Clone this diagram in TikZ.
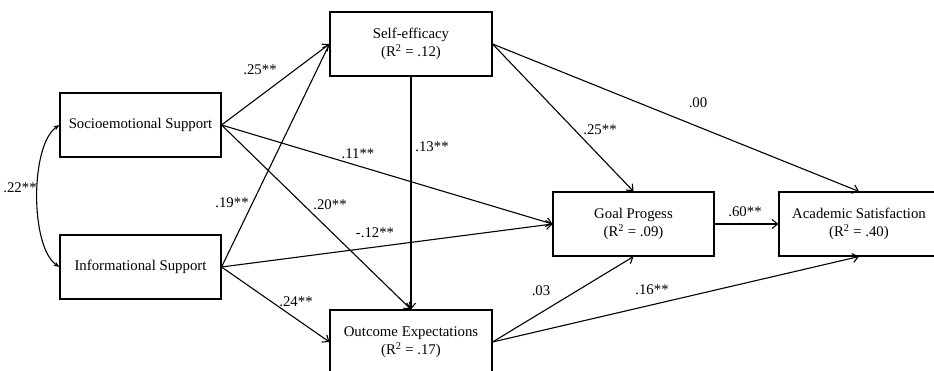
\documentclass[tikz,border=0pt]{standalone}
\usepackage{fontspec}
\setmainfont{Liberation Serif}
\usetikzlibrary{arrows.meta}
\begin{document}
\begin{tikzpicture}[x=1pt,y=-1pt,
  font=\fontsize{14.8}{18}\selectfont,
  box/.style={draw,line width=1.1pt,minimum height=64pt,inner sep=0pt,align=center},
  path/.style={line width=1.1pt,-{Straight Barb[length=5.5pt,width=9pt,line width=1.1pt]}},
  coef/.style={inner sep=0pt}]
\useasboundingbox (0,0) rectangle (934,370);
\clip (0,0) rectangle (934,370);
\node[box,minimum width=161pt] (soc) at (140.5,125) {Socioemotional Support};
\node[box,minimum width=161pt] (inf) at (140.5,267) {Informational Support};
\node[box,minimum width=162pt] (se) at (411,44) {Self-efficacy\\(R\textsuperscript{2} = .12)};
\node[box,minimum width=162pt] (oe) at (411,342) {Outcome Expectations\\(R\textsuperscript{2} = .17)};
\node[box,minimum width=161pt] (gp) at (633.5,224) {Goal Progess\\(R\textsuperscript{2} = .09)};
\node[box,minimum width=160pt] (as) at (859,224) {Academic Satisfaction\\(R\textsuperscript{2} = .40)};
\draw[path] (soc.east) -- (se.west);
\draw[path] (inf.east) -- (se.west);
\draw[path] (soc.east) -- (gp.west);
\draw[path] (inf.east) -- (gp.west);
\draw[path] (soc.east) -- (oe.north);
\draw[path] (se.south) -- (oe.north);
\draw[path] (inf.east) -- (oe.west);
\draw[path] (se.east) -- (gp.north);
\draw[path] (se.east) -- (as.north);
\draw[path] (gp.east) -- (as.west);
\draw[path] (oe.east) -- (gp.south);
\draw[path] (oe.east) -- (as.south);
\draw[line width=1.1pt,{Stealth[length=6pt,width=4.5pt]}-{Stealth[length=6pt,width=4.5pt]}]
  (soc.west) .. controls (30,145) and (30,247) .. (inf.west);
\node[coef] (c1) at (260,70) {.25**};
\node[coef] (c2) at (232,203) {.19**};
\node[coef] (c3) at (330,205) {.20**};
\node[coef] (c4) at (358,154) {.11**};
\node[coef] (c5) at (375,233) {-.12**};
\node[coef] (c6) at (296,302) {.24**};
\node[coef] (c7) at (432,147) {.13**};
\node[coef] (c8) at (600,130) {.25**};
\node[coef] (c9) at (698,103) {.00};
\node[coef] (c10) at (745,212) {.60**};
\node[coef] (c11) at (541,291) {.03};
\node[coef] (c12) at (652,290) {.16**};
\node[coef] (c13) at (20,188) {.22**};
\end{tikzpicture}
\end{document}
